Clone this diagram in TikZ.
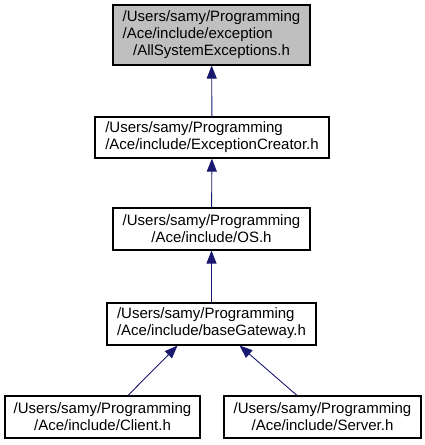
\documentclass[tikz,border=0pt]{standalone}
\usepackage{fontspec}
\setmainfont{Liberation Sans}
\usetikzlibrary{arrows.meta}

\begin{document}
\begin{tikzpicture}[x=1pt, y=1pt, >={Triangle[length=13pt, width=10pt]},
		file/.style={draw=black, line width=1.1pt, inner sep=0pt, minimum height=42pt, font=\fontsize{15}{17}\selectfont, align=center},
		incl/.style={->, line width=0.9pt, midblue}]
			\definecolor{midblue}{RGB}{25, 25, 112}
			\definecolor{topgray}{RGB}{191, 191, 191}
			\useasboundingbox (0,0) rectangle (425,445);
			% the files, top to bottom
			\node[file, fill=topgray, minimum width=197pt, minimum height=60pt] (allexc) at (211.5,410)
				{\begin{tabular}{@{}l@{}}/Users/samy/Programming\\/Ace/include/exception\\\multicolumn{1}{@{}c@{}}{/AllSystemExceptions.h}\end{tabular}};
			\node[file, minimum width=234pt, minimum height=41pt] (creator) at (212,307.5)
				{\begin{tabular}{@{}l@{}}/Users/samy/Programming\\/Ace/include/ExceptionCreator.h\end{tabular}};
			\node[file, minimum width=197pt] (os) at (211.5,216) {/Users/samy/Programming\\/Ace/include/OS.h};
			\node[file, minimum width=209pt] (gateway) at (211.5,121)
				{\begin{tabular}{@{}l@{}}/Users/samy/Programming\\/Ace/include/baseGateway.h\end{tabular}};
			\node[file, minimum width=195pt] (client) at (102.5,28) {/Users/samy/Programming\\/Ace/include/Client.h};
			\node[file, minimum width=197pt] (server) at (322.5,28) {/Users/samy/Programming\\/Ace/include/Server.h};
			% include edges
			\draw[incl] (creator) -- (allexc);
			\draw[incl] (os) -- (creator);
			\draw[incl] (gateway) -- (os);
			\draw[incl] ([xshift=25.5pt]client.north) -- ([xshift=-34pt]gateway.south);
			\draw[incl] ([xshift=-25.5pt]server.north) -- ([xshift=28pt]gateway.south);
		\end{tikzpicture}
\end{document}
